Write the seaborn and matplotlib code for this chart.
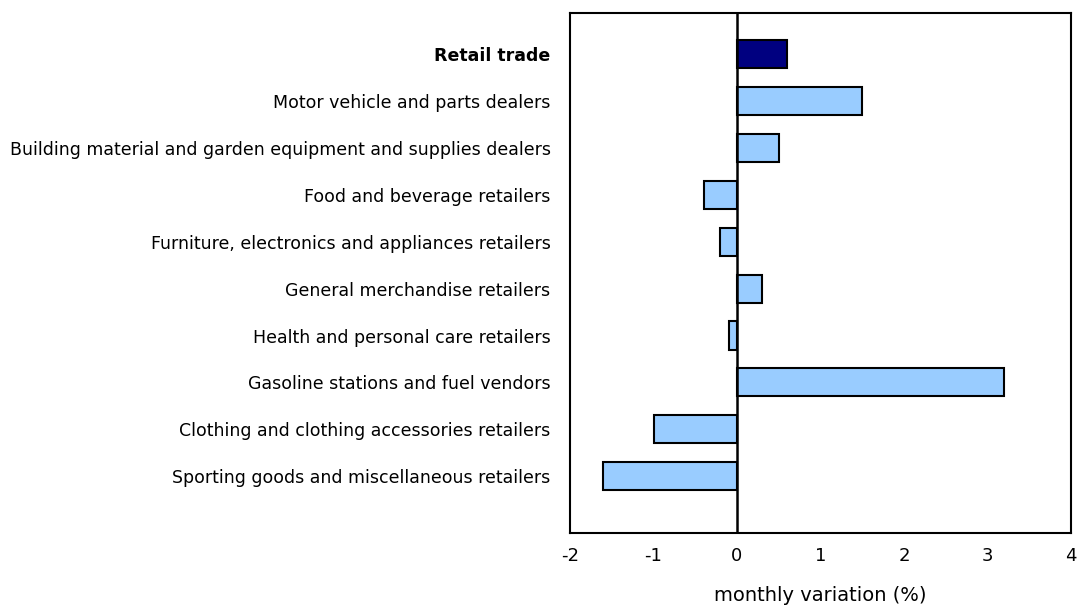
import pandas as pd
import numpy as np
import matplotlib.pyplot as plt
import seaborn as sns

# Data
categories = [
    "Retail trade",
    "Motor vehicle and parts dealers",
    "Building material and garden equipment and supplies dealers",
    "Food and beverage retailers",
    "Furniture, electronics and appliances retailers",
    "General merchandise retailers",
    "Health and personal care retailers",
    "Gasoline stations and fuel vendors",
    "Clothing and clothing accessories retailers",
    "Sporting goods and miscellaneous retailers",
]
values = [0.6, 1.5, 0.5, -0.4, -0.2, 0.3, -0.1, 3.2, -1.0, -1.6]
groups = ["total"] + ["sub"] * 9
x_ticks = [-2, -1, 0, 1, 2, 3, 4]

df = pd.DataFrame({"category": categories, "value": values, "group": groups})

sns.set_style("white")
plt.rcParams['font.family'] = ['DejaVu Sans']
plt.rcParams['text.color'] = 'black'
plt.rcParams['xtick.color'] = 'black'
plt.rcParams['ytick.color'] = 'black'
plt.rcParams['axes.labelcolor'] = 'black'

fig = plt.figure(figsize=(10.77, 6.06), dpi=100)
ax = fig.add_axes([570 / 1077, 1 - 533 / 606, 501 / 1077, 520 / 606])

sns.barplot(data=df, x="value", y="category", hue="group", orient="h",
            palette={"total": "#000080", "sub": "#99CCFF"}, saturation=1,
            width=0.6, edgecolor="black", linewidth=1.5,
            dodge=False, legend=False, ax=ax)

ax.axvline(0, color="black", linewidth=1.8, zorder=3)

ax.set_xlim(-2, 4)
ax.set_ylim(10.21, -0.875)
ax.set_xticks(x_ticks)
ax.set_xticklabels([str(t) for t in x_ticks], fontsize=13)
ax.tick_params(axis="x", direction="in", length=9, width=1.5, pad=10)
ax.tick_params(axis="y", length=0, pad=14, labelsize=12.5)
for lab in ax.get_yticklabels():
    if lab.get_text() == "Retail trade":
        lab.set_fontweight("bold")

for side in ["left", "right", "top", "bottom"]:
    ax.spines[side].set_visible(True)
    ax.spines[side].set_color("black")
    ax.spines[side].set_linewidth(1.5)

ax.set_ylabel("")
ax.set_xlabel("monthly variation (%)", fontsize=14, labelpad=15)

plt.savefig("out.png", dpi=100)
